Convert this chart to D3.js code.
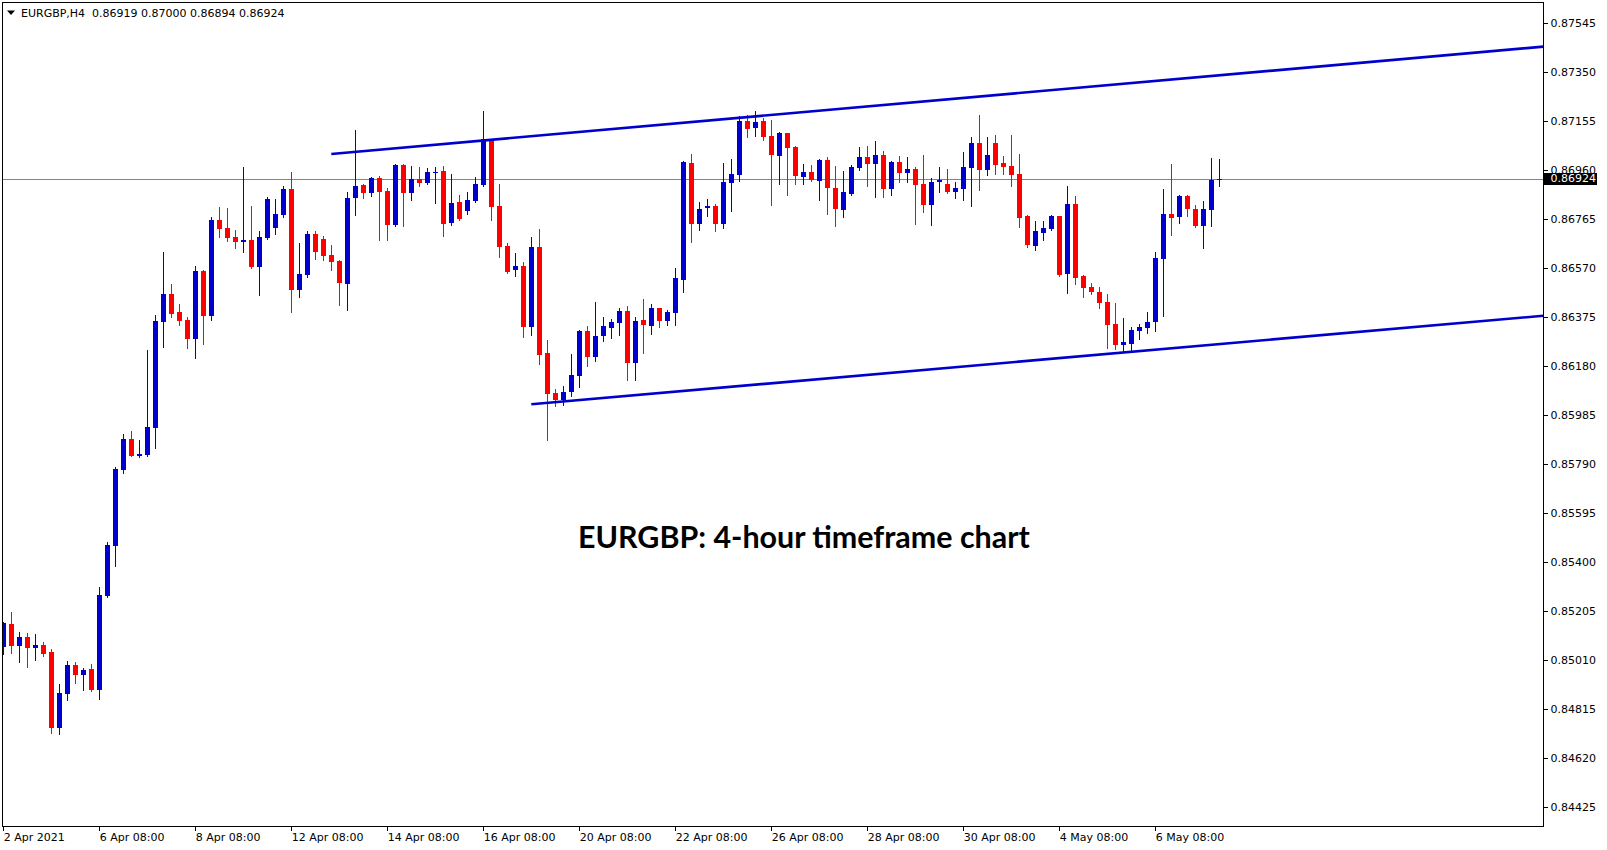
<!DOCTYPE html>
<html>
<head>
<meta charset="utf-8">
<script src="https://cdn.jsdelivr.net/npm/d3@7/dist/d3.min.js"></script>
<style>
  html, body { margin: 0; padding: 0; background: #ffffff; }
  svg { display: block; }
</style>
</head>
<body>
<svg id="chart" width="1607" height="850"></svg>
<script>
// ---------------- DATA ----------------
const symbolName = "EURGBP,H4";
const chartTitle = "EURGBP: 4-hour timeframe chart";

// H4 bars, index 0 = 2 Apr 2021 08:00
const open = [
  0.85061,0.85152,0.85065,0.85100,0.85057,0.85068,0.85041,0.84739,0.84875,0.84989,
  0.84950,0.84973,0.84890,0.85264,0.85463,0.85766,0.85888,0.85821,0.85825,0.85933,
  0.86355,0.86465,0.86393,0.86361,0.86284,0.86556,0.86379,0.86759,0.86728,0.86692,
  0.86673,0.86680,0.86573,0.86688,0.86728,0.86780,0.86883,0.86481,0.86540,0.86704,
  0.86684,0.86620,0.86596,0.86506,0.86848,0.86899,0.86868,0.86925,0.86875,0.86740,
  0.86978,0.86868,0.86922,0.86906,0.86947,0.86954,0.86748,0.86831,0.86795,0.86835,
  0.86899,0.87078,0.86815,0.86656,0.86560,0.86576,0.86333,0.86652,0.86230,0.86071,
  0.86043,0.86075,0.86139,0.86317,0.86215,0.86298,0.86329,0.86349,0.86397,0.86191,
  0.86361,0.86337,0.86409,0.86357,0.86389,0.86521,0.86986,0.86744,0.86807,0.86815,
  0.86744,0.86907,0.86938,0.87153,0.87125,0.87153,0.87094,0.87014,0.87105,0.87050,
  0.86931,0.86950,0.86915,0.86998,0.86887,0.86799,0.86863,0.86966,0.87010,0.86982,
  0.87018,0.86883,0.86990,0.86946,0.86962,0.86903,0.86819,0.86911,0.86903,0.86871,
  0.86883,0.86966,0.87066,0.86958,0.87066,0.86986,0.86974,0.86942,0.86775,0.86656,
  0.86708,0.86724,0.86775,0.86544,0.86823,0.86536,0.86493,0.86473,0.86433,0.86345,
  0.86262,0.86266,0.86317,0.86329,0.86353,0.86604,0.86783,0.86771,0.86855,0.86803,
  0.86736,0.86799,0.86919
];
const high = [
  0.85160,0.85200,0.85120,0.85116,0.85112,0.85080,0.85051,0.84913,0.85005,0.85001,
  0.84977,0.84993,0.85299,0.85477,0.85777,0.85908,0.85920,0.85884,0.86242,0.86381,
  0.86632,0.86505,0.86425,0.86375,0.86576,0.86560,0.86771,0.86811,0.86807,0.86720,
  0.86970,0.86815,0.86716,0.86851,0.86843,0.86895,0.86951,0.86668,0.86714,0.86716,
  0.86696,0.86660,0.86600,0.86871,0.87117,0.86903,0.86929,0.86935,0.86885,0.86982,
  0.86980,0.86974,0.86970,0.86966,0.86970,0.86974,0.86942,0.86859,0.86871,0.86930,
  0.87193,0.87080,0.86903,0.86668,0.86628,0.86592,0.86692,0.86724,0.86282,0.86087,
  0.86099,0.86226,0.86321,0.86337,0.86433,0.86373,0.86365,0.86409,0.86417,0.86373,
  0.86445,0.86425,0.86410,0.86401,0.86568,0.86994,0.87022,0.86831,0.86843,0.86823,
  0.86986,0.87002,0.87173,0.87177,0.87193,0.87165,0.87157,0.87109,0.87107,0.87052,
  0.86982,0.86978,0.87002,0.87010,0.86974,0.86954,0.86978,0.87050,0.87054,0.87074,
  0.87034,0.86994,0.87014,0.87010,0.86970,0.87018,0.86927,0.86970,0.86962,0.86911,
  0.87030,0.87090,0.87177,0.87090,0.87098,0.87014,0.87098,0.87022,0.86779,0.86756,
  0.86756,0.86779,0.86777,0.86895,0.86855,0.86540,0.86509,0.86493,0.86465,0.86429,
  0.86369,0.86333,0.86345,0.86393,0.86632,0.86883,0.86982,0.86859,0.86859,0.86819,
  0.86835,0.87006,0.87000
];
const low = [
  0.85032,0.85038,0.85002,0.84982,0.85010,0.85026,0.84719,0.84715,0.84851,0.84918,
  0.84890,0.84886,0.84855,0.85260,0.85384,0.85754,0.85819,0.85817,0.85821,0.85853,
  0.86255,0.86375,0.86343,0.86251,0.86211,0.86267,0.86363,0.86693,0.86677,0.86649,
  0.86633,0.86569,0.86462,0.86684,0.86704,0.86772,0.86394,0.86454,0.86534,0.86605,
  0.86600,0.86560,0.86421,0.86401,0.86779,0.86848,0.86856,0.86680,0.86680,0.86737,
  0.86737,0.86839,0.86894,0.86902,0.86828,0.86696,0.86740,0.86760,0.86783,0.86831,
  0.86895,0.86759,0.86612,0.86548,0.86536,0.86293,0.86301,0.86186,0.85884,0.86019,
  0.86023,0.86059,0.86096,0.86178,0.86197,0.86278,0.86289,0.86301,0.86123,0.86123,
  0.86230,0.86305,0.86333,0.86341,0.86341,0.86473,0.86672,0.86720,0.86775,0.86716,
  0.86728,0.86795,0.86915,0.87089,0.87093,0.87078,0.86819,0.86903,0.86859,0.86903,
  0.86903,0.86915,0.86839,0.86783,0.86736,0.86771,0.86860,0.86958,0.86895,0.86851,
  0.86851,0.86859,0.86911,0.86911,0.86744,0.86791,0.86740,0.86871,0.86867,0.86847,
  0.86839,0.86815,0.86879,0.86938,0.86942,0.86942,0.86895,0.86732,0.86652,0.86640,
  0.86680,0.86720,0.86536,0.86469,0.86505,0.86453,0.86465,0.86409,0.86250,0.86246,
  0.86234,0.86242,0.86285,0.86309,0.86317,0.86377,0.86700,0.86748,0.86775,0.86732,
  0.86648,0.86736,0.86894
];
const close = [
  0.85157,0.85065,0.85100,0.85057,0.85068,0.85034,0.84739,0.84877,0.84989,0.84950,
  0.84969,0.84890,0.85267,0.85466,0.85769,0.85888,0.85821,0.85828,0.85936,0.86357,
  0.86465,0.86387,0.86359,0.86284,0.86556,0.86379,0.86759,0.86725,0.86689,0.86673,
  0.86680,0.86573,0.86692,0.86843,0.86783,0.86883,0.86481,0.86544,0.86704,0.86632,
  0.86617,0.86593,0.86510,0.86847,0.86895,0.86868,0.86925,0.86872,0.86740,0.86978,
  0.86868,0.86922,0.86906,0.86950,0.86950,0.86744,0.86827,0.86763,0.86839,0.86903,
  0.87080,0.86811,0.86652,0.86552,0.86576,0.86333,0.86652,0.86222,0.86067,0.86043,
  0.86075,0.86143,0.86317,0.86215,0.86298,0.86337,0.86353,0.86397,0.86191,0.86357,
  0.86341,0.86409,0.86357,0.86393,0.86529,0.86990,0.86744,0.86803,0.86815,0.86744,
  0.86911,0.86942,0.87153,0.87121,0.87149,0.87089,0.87018,0.87105,0.87046,0.86935,
  0.86950,0.86918,0.86998,0.86887,0.86803,0.86871,0.86970,0.87010,0.86982,0.87018,
  0.86883,0.86990,0.86946,0.86962,0.86899,0.86819,0.86911,0.86919,0.86871,0.86887,
  0.86970,0.87066,0.86958,0.87018,0.86978,0.86970,0.86938,0.86767,0.86660,0.86716,
  0.86728,0.86775,0.86540,0.86823,0.86528,0.86489,0.86473,0.86429,0.86341,0.86262,
  0.86274,0.86321,0.86333,0.86353,0.86608,0.86783,0.86767,0.86855,0.86803,0.86736,
  0.86803,0.86919,0.86924
];

// price axis ticks
const yTicks = [0.87545,0.87350,0.87155,0.86960,0.86765,0.86570,0.86375,0.86180,
                0.85985,0.85790,0.85595,0.85400,0.85205,0.85010,0.84815,0.84620,0.84425];
// time axis ticks (bar index) and labels
const xTickBars = [0,12,24,36,48,60,72,84,96,108,120,132,144];
const xTickLabels = ["2 Apr 2021","6 Apr 08:00","8 Apr 08:00","12 Apr 08:00","14 Apr 08:00",
  "16 Apr 08:00","20 Apr 08:00","22 Apr 08:00","26 Apr 08:00","28 Apr 08:00",
  "30 Apr 08:00","4 May 08:00","6 May 08:00"];

// channel trend lines: [bar index, price] anchors
const upperLine = [[41, 0.87022], [192.5, 0.87449]];
const lowerLine = [[66, 0.86026], [192.5, 0.86378]];

// ---------------- LAYOUT ----------------
const plot = { left: 2.5, right: 1543.5, top: 2.5, bottom: 826.5 };
const BULL = "#0000CD", BEAR = "#FF0000", LINE = "#0000CD";
const AXIS_FONT = "'DejaVu Sans', Verdana, sans-serif";

const svg = d3.select("#chart");
const xs = d3.scaleLinear().domain([0, 192.5]).range([3.3, 1543.3]);
const ys = d3.scaleLinear().domain([0.84425, 0.87545]).range([806.6, 22.5]);

const bars = open.map((o, i) => ({ i, o, h: high[i], l: low[i], c: close[i] }));
const last = bars[bars.length - 1];

// clip
svg.append("clipPath").attr("id", "plotclip").append("rect")
  .attr("x", plot.left).attr("y", plot.top)
  .attr("width", plot.right - plot.left).attr("height", plot.bottom - plot.top);

// current price line (behind candles)
svg.append("line")
  .attr("x1", plot.left).attr("x2", plot.right)
  .attr("y1", Math.round(ys(last.c)) + 0.5).attr("y2", Math.round(ys(last.c)) + 0.5)
  .attr("stroke", "#778899").attr("stroke-width", 1);

// candles
const cg = svg.append("g").attr("shape-rendering", "crispEdges").attr("clip-path", "url(#plotclip)");
const candle = cg.selectAll("g.c").data(bars).join("g")
  .attr("fill", d => d.c >= d.o ? BULL : BEAR);
candle.append("rect") // wick
  .attr("x", d => Math.round(xs(d.i)))
  .attr("width", 1)
  .attr("y", d => Math.round(ys(d.h)))
  .attr("height", d => Math.max(1, Math.round(ys(d.l)) - Math.round(ys(d.h)) + 1));
candle.append("rect") // body
  .attr("x", d => Math.round(xs(d.i)) - 2)
  .attr("width", 5)
  .attr("y", d => Math.round(ys(Math.max(d.o, d.c))))
  .attr("height", d => Math.max(1, Math.round(ys(Math.min(d.o, d.c))) - Math.round(ys(Math.max(d.o, d.c)))));

// trend lines (rays to the right edge)
const lineGen = d3.line().x(d => xs(d[0])).y(d => ys(d[1]));
[upperLine, lowerLine].forEach(pts => {
  svg.append("path").attr("d", lineGen(pts))
    .attr("fill", "none").attr("stroke", LINE).attr("stroke-width", 2.6)
    .attr("clip-path", "url(#plotclip)");
});

// frame
svg.append("rect")
  .attr("x", plot.left).attr("y", plot.top)
  .attr("width", plot.right - plot.left).attr("height", plot.bottom - plot.top)
  .attr("fill", "none").attr("stroke", "#000").attr("stroke-width", 1)
  .attr("shape-rendering", "crispEdges");

// price axis
const yAxis = d3.axisRight(ys).tickValues(yTicks).tickFormat(d3.format(".5f")).tickSize(4).tickPadding(3);
const yg = svg.append("g").attr("transform", `translate(${plot.right},0)`).call(yAxis);
yg.select(".domain").remove();
yg.selectAll("line").attr("stroke", "#000").attr("shape-rendering", "crispEdges");
yg.selectAll("text").attr("fill", "#000").style("font-family", AXIS_FONT).style("font-size", "11px");

// time axis
const xAxis = d3.axisBottom(xs).tickValues(xTickBars)
  .tickFormat((d, k) => xTickLabels[k]).tickSize(4).tickPadding(3);
const xg = svg.append("g").attr("transform", `translate(0,${plot.bottom})`).call(xAxis);
xg.select(".domain").remove();
xg.selectAll("line").attr("stroke", "#000").attr("shape-rendering", "crispEdges");
xg.selectAll("text").attr("fill", "#000").attr("text-anchor", "start").attr("x", 0)
  .style("font-family", AXIS_FONT).style("font-size", "11px");

// current price label box
const py = ys(last.c);
svg.append("rect").attr("x", 1544).attr("y", Math.round(py) - 6).attr("width", 53).attr("height", 12)
  .attr("fill", "#000");
svg.append("text").attr("x", 1550.5).attr("y", py).attr("dy", "0.35em")
  .attr("fill", "#fff").style("font-family", AXIS_FONT).style("font-size", "11px")
  .text(d3.format(".5f")(last.c));

// header
svg.append("path").attr("d", "M7,10.5 L15,10.5 L11,15 Z").attr("fill", "#000");
svg.append("text").attr("x", 21).attr("y", 17).attr("fill", "#000")
  .style("font-family", AXIS_FONT).style("font-size", "11px").text(symbolName);
svg.append("text").attr("x", 92).attr("y", 17).attr("fill", "#000")
  .style("font-family", AXIS_FONT).style("font-size", "11px")
  .text([last.o, last.h, last.l, last.c].map(d3.format(".5f")).join(" "));

// title
const title = svg.append("text").attr("x", 578).attr("y", 548)
  .attr("fill", "#000").style("font-family", "Lato, 'Open Sans', sans-serif")
  .style("font-weight", "700").style("font-size", "32px").text(chartTitle);
const tl = title.node().getComputedTextLength();
if (tl > 0) title.style("font-size", (32 * 452 / tl).toFixed(2) + "px");
</script>
</body>
</html>
